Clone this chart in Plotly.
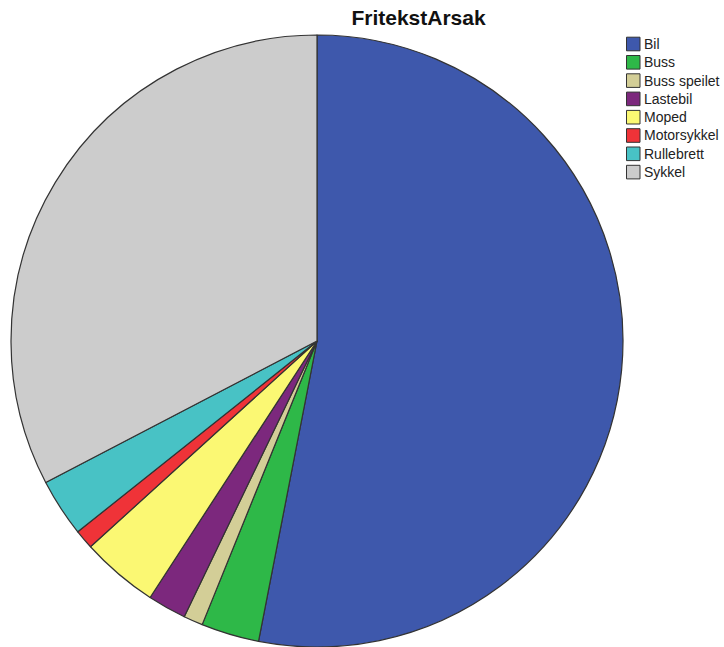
import plotly.graph_objects as go

categories = ["Bil", "Buss", "Buss speilet", "Lastebil", "Moped", "Motorsykkel", "Rullebrett", "Sykkel"]
counts = [52, 3, 1, 2, 4, 1, 3, 32]
colors = ["#3E58AC", "#2EB848", "#D3CE97", "#7C287D", "#FBF873", "#EF3338", "#48C2C5", "#CCCCCC"]

W, H = 724, 647
fig = go.Figure(go.Pie(
    labels=categories,
    values=counts,
    sort=False,
    direction="clockwise",
    rotation=0,
    textinfo="none",
    hoverinfo="label+value+percent",
    marker=dict(colors=colors, line=dict(color="#333333", width=1.2)),
    domain=dict(x=[11 / W, 623 / W], y=[0, 1 - 35 / H]),
    showlegend=False,
))

# Legend drawn as paper-anchored swatches + labels
shapes = []
annotations = []
row0, step = 44.0, 18.3
for i, (lab, col) in enumerate(zip(categories, colors)):
    yc = row0 + i * step
    shapes.append(dict(type="rect", xref="paper", yref="paper",
                       x0=626.5 / W, x1=640 / W,
                       y0=1 - (yc - 6.8) / H, y1=1 - (yc + 6.8) / H,
                       fillcolor=col, line=dict(color="#333333", width=1)))
    annotations.append(dict(text=lab, xref="paper", yref="paper",
                            x=641.5 / W, y=1 - yc / H, xanchor="left", yanchor="middle",
                            showarrow=False, font=dict(size=14, color="#222222")))

fig.update_layout(
    width=W, height=H,
    margin=dict(l=0, r=0, t=0, b=0),
    paper_bgcolor="white",
    plot_bgcolor="white",
    font=dict(family="Liberation Sans, Arial, sans-serif", color="#222222"),
    title=dict(text="<b>FritekstArsak</b>", x=418.5 / W, xanchor="center",
               y=1 - 18 / H, yanchor="middle",
               font=dict(size=21, color="#111111")),
    shapes=shapes,
    annotations=annotations,
)

fig.write_html("out.html", config={"displayModeBar": False},
               post_script="document.body.style.margin='0';document.body.style.overflow='hidden';")
